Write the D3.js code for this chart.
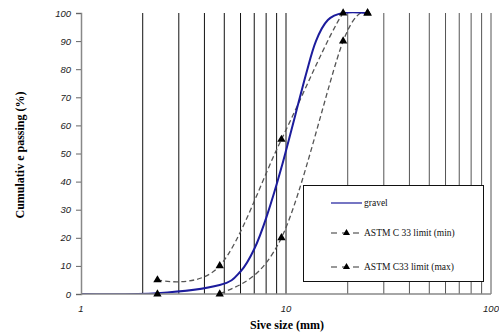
<!DOCTYPE html>
<html>
<head>
<meta charset="utf-8">
<script src="https://cdn.jsdelivr.net/npm/d3@7"></script>
<style>
  body { margin: 0; background: #fff; }
  svg { display: block; }
</style>
</head>
<body>
<svg id="chart" width="499" height="335"></svg>
<script>
// sieve sizes (mm) and cumulative passing (%)
const gravelSize = [1, 2.36, 4.75, 6, 7, 8, 9.5, 12.5, 14, 16, 19, 25];
const gravelPass = [0, 0.3, 3.2, 8, 16, 27, 45, 78, 90, 97.5, 100, 100];

const limitSize = [2.36, 4.75, 9.5, 19, 25];
const minPass = [0, 0, 20, 90, 100];
const maxPass = [5, 10, 55, 100, 100];

const gridSizes = [2, 3, 4, 5, 6, 7, 8, 9, 10, 20, 30, 40, 50, 60, 70, 80, 90, 100];
const xTickLabels = [1, 10, 100];
const yTicks = [0, 10, 20, 30, 40, 50, 60, 70, 80, 90, 100];

const svg = d3.select('#chart');

const x = d3.scaleLog().domain([1, 100]).range([81, 491]);
const y = d3.scaleLinear().domain([0, 100]).range([294, 13]);

svg.append('defs').append('clipPath')
  .attr('id', 'plot-clip')
  .append('rect')
  .attr('x', x(1)).attr('y', y(100) - 1)
  .attr('width', x(100) - x(1)).attr('height', y(0) - y(100) + 1);

// vertical grid lines
svg.append('g')
  .selectAll('line')
  .data(gridSizes)
  .enter()
  .append('line')
  .attr('x1', d => x(d))
  .attr('x2', d => x(d))
  .attr('y1', y(0))
  .attr('y2', y(100))
  .attr('stroke', d => d > 10 ? '#555' : '#111')
  .attr('stroke-width', 1);

const line = d3.line()
  .x(d => x(d[0]))
  .y(d => y(d[1]))
  .curve(d3.curveCatmullRom.alpha(0));

const plot = svg.append('g').attr('clip-path', 'url(#plot-clip)');

// ASTM limit lines
[minPass, maxPass].forEach(pass => {
  const pts = limitSize.map((s, i) => [s, pass[i]]);
  plot.append('path')
    .datum(pts)
    .attr('d', line)
    .attr('fill', 'none')
    .attr('stroke', '#555')
    .attr('stroke-width', 1.3)
    .attr('stroke-dasharray', '5,3');
});

// gravel curve
plot.append('path')
  .datum(gravelSize.map((s, i) => [s, gravelPass[i]]))
  .attr('d', line)
  .attr('fill', 'none')
  .attr('stroke', '#1c1c9c')
  .attr('stroke-width', 2);

// x axis baseline
svg.append('line')
  .attr('x1', x(1)).attr('x2', x(100))
  .attr('y1', y(0)).attr('y2', y(0))
  .attr('stroke', '#888').attr('stroke-width', 1.5);

// triangle markers
[minPass, maxPass].forEach(pass => {
  svg.append('g')
    .selectAll('path')
    .data(limitSize.map((s, i) => [s, pass[i]]))
    .enter()
    .append('path')
    .attr('transform', d => `translate(${x(d[0])},${y(d[1])})`)
    .attr('d', d3.symbol(d3.symbolTriangle, 30))
    .attr('fill', '#000');
});

// y axis
const yAxis = svg.append('g')
  .attr('transform', `translate(${x(1)},0)`)
  .call(d3.axisLeft(y).tickValues(yTicks).tickSize(5).tickPadding(5));
yAxis.select('.domain').attr('stroke', '#888').attr('stroke-width', 1.5);
yAxis.selectAll('.tick line').attr('stroke', '#666');
yAxis.selectAll('text')
  .attr('font-family', 'Liberation Sans, Arial, sans-serif')
  .attr('font-style', 'italic')
  .attr('font-size', 9.5)
  .attr('fill', '#222');

// x tick labels
svg.append('g')
  .selectAll('text')
  .data(xTickLabels)
  .enter()
  .append('text')
  .attr('x', d => x(d))
  .attr('y', 312)
  .attr('text-anchor', 'middle')
  .attr('font-family', 'Liberation Sans, Arial, sans-serif')
  .attr('font-style', 'italic')
  .attr('font-size', 9.5)
  .attr('fill', '#222')
  .text(d => d);

// axis titles
svg.append('text')
  .attr('x', 287)
  .attr('y', 329)
  .attr('text-anchor', 'middle')
  .attr('font-family', 'Liberation Serif, Times New Roman, serif')
  .attr('font-weight', 'bold')
  .attr('font-size', 12)
  .text('Sive size (mm)');

svg.append('text')
  .attr('transform', 'translate(24,155) rotate(-90)')
  .attr('text-anchor', 'middle')
  .attr('font-family', 'Liberation Serif, Times New Roman, serif')
  .attr('font-weight', 'bold')
  .attr('font-size', 12)
  .text('Cumulativ e passing (%)');

// legend
const legend = svg.append('g');
legend.append('rect')
  .attr('x', 303.5).attr('y', 185.5)
  .attr('width', 180).attr('height', 96)
  .attr('fill', '#fff').attr('stroke', '#111').attr('stroke-width', 1);

const legendItems = [
  { label: 'gravel', y: 203, type: 'solid' },
  { label: 'ASTM C 33 limit (min)', y: 233, type: 'dash' },
  { label: 'ASTM C33 limit (max)', y: 267, type: 'dash' }
];

legendItems.forEach(it => {
  if (it.type === 'solid') {
    legend.append('line')
      .attr('x1', 331).attr('x2', 362).attr('y1', it.y).attr('y2', it.y)
      .attr('stroke', '#1c1c9c').attr('stroke-width', 1.2);
  } else {
    legend.append('line')
      .attr('x1', 331).attr('x2', 362).attr('y1', it.y).attr('y2', it.y)
      .attr('stroke', '#333').attr('stroke-width', 1.2)
      .attr('stroke-dasharray', '6,5');
    legend.append('path')
      .attr('transform', `translate(346.5,${it.y})`)
      .attr('d', d3.symbol(d3.symbolTriangle, 22))
      .attr('fill', '#000');
  }
  legend.append('text')
    .attr('x', 364)
    .attr('y', it.y + 3)
    .attr('font-family', 'Liberation Serif, Times New Roman, serif')
    .attr('font-size', 9.5)
    .attr('fill', '#111')
    .text(it.label);
});
</script>
</body>
</html>
